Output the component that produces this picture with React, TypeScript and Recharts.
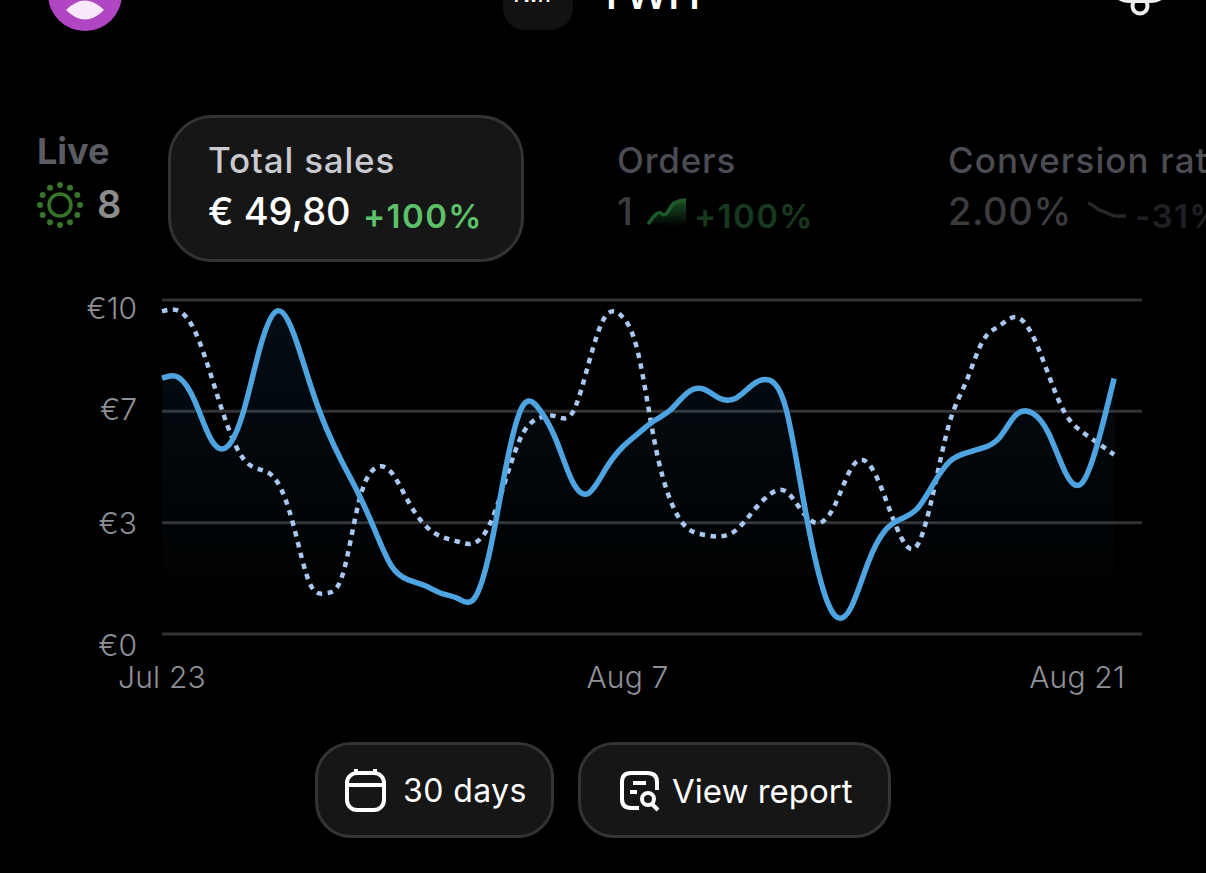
import React from "react";
import { ComposedChart, Area, Line, XAxis, YAxis, CartesianGrid } from "recharts";

const halfDays = Array.from({ length: 59 }, (_, i) => i / 2);
const currentSales = [7.66,7.68,6.97,5.82,5.62,6.72,8.62,9.67,9.02,7.52,6.17,5.12,4.17,3.07,2.02,1.62,1.45,1.22,1.07,1.05,2.55,5.12,6.85,6.72,5.82,4.57,4.22,4.92,5.57,6.0,6.39,6.72,7.22,7.33,7.05,7.07,7.47,7.6,6.77,4.22,1.82,0.55,0.82,2.12,3.07,3.44,3.75,4.5,5.17,5.42,5.57,5.87,6.55,6.62,6.02,4.87,4.5,5.72,7.65];
const previousSales = [9.66,9.68,9.07,7.72,6.22,5.22,4.92,4.57,3.27,1.52,1.22,1.77,3.97,4.97,4.82,3.97,3.27,2.92,2.77,2.72,3.32,4.72,6.02,6.47,6.52,6.62,8.12,9.5,9.52,8.42,5.77,3.97,3.17,2.97,2.92,3.12,3.67,4.17,4.27,3.67,3.32,3.87,4.97,5.12,4.15,2.92,2.65,4.27,6.37,7.57,8.77,9.22,9.49,8.97,7.77,6.62,6.07,5.72,5.37];
const yTicks = [0, 3.33, 6.67, 10];
const yLabels = ["€0", "€3", "€7", "€10"];
const xTicks = [0, 15, 29];
const xLabels = ["Jul 23", "Aug 7", "Aug 21"];

const rows = halfDays.map((day, i) => ({ day, current: currentSales[i], previous: previousSales[i] }));
const FONT = "Inter, sans-serif";
const yNudge: Record<number, number> = { 0: 11, 3.33: 0, 6.67: -2, 10: 8 };
const xNudge: Record<number, number> = { 0: 0, 15: -27, 29: -37 };

const YTick = (p: any) => (
  <text x={137} y={p.y + yNudge[p.payload.value]} textAnchor="end" dominantBaseline="central" fill="#8f9096" fontFamily={FONT} fontSize={30} fontWeight={300}>
    {yLabels[yTicks.indexOf(p.payload.value)]}
  </text>
);
const XTick = (p: any) => (
  <text x={p.x + xNudge[p.payload.value]} y={677} textAnchor="middle" dominantBaseline="central" fill="#8f9096" fontFamily={FONT} fontSize={30} fontWeight={300} letterSpacing={0.2}>
    {xLabels[xTicks.indexOf(p.payload.value)]}
  </text>
);

const abs = (s: React.CSSProperties): React.CSSProperties => ({ position: "absolute", ...s });
const T = ({ x, y, size, color, weight = 500, spacing = 0, children }: any) => (
  <div style={abs({ left: x, top: y, transform: "translateY(-50%)", fontSize: size, color, fontWeight: weight, letterSpacing: spacing, whiteSpace: "nowrap", lineHeight: 1 })}>{children}</div>
);
const Pill = ({ x, y, w, h, r }: any) => (
  <div style={abs({ left: x, top: y, width: w, height: h, borderRadius: r, background: "#161616", border: "3px solid #333", boxSizing: "border-box" })} />
);

export default function App() {
  return (
    <div style={abs({ left: 0, top: 0, width: 1206, height: 873, background: "#000", overflow: "hidden", fontFamily: FONT })}>
      <svg width={1206} height={60} style={abs({ left: 0, top: 0 })}>
        <circle cx={85} cy={-6} r={37} fill="#b146c2" />
        <path d="M66 10 Q85 -9 104 10 Q85 29 66 10 Z" fill="#f8e9fa" />
        <rect x={503} y={-40} width={70} height={70} rx={22} fill="#121212" />
        <path d="M1115 -3 H1165 Q1160 3 1150 3 H1130 Q1120 3 1115 -3 Z" fill="#eee" />
        <circle cx={1140} cy={6} r={7.5} fill="none" stroke="#eee" strokeWidth={4} />
      </svg>
      <T x={511} y={-4} size={16} color="#fff" weight={700}>TWH</T>
      <T x={597} y={-7} size={44} color="#fff" weight={500} spacing={-1}>TWH</T>

      <T x={37} y={151} size={36} color="#5b5c62" weight={700}>Live</T>
      <svg width={50} height={50} style={abs({ left: 35, top: 180 })}>
        <circle cx={25} cy={25} r={11} fill="none" stroke="#37752a" strokeWidth={3.5} />
        {[0,30,60,90,120,150,180,210,240,270,300,330].map((a) => (
          <circle key={a} cx={25 + 20 * Math.cos((a * Math.PI) / 180)} cy={25 + 20 * Math.sin((a * Math.PI) / 180)} r={3} fill="#37752a" />
        ))}
      </svg>
      <T x={97} y={204} size={38} color="#8c8c8c" weight={600}>8</T>

      <Pill x={168} y={115} w={356} h={147} r={44} />
      <T x={208} y={160} size={35} color="#c9cad0" weight={500} spacing={0.8}>Total sales</T>
      <T x={208} y={211} size={38} color="#fff" weight={500} spacing={0}>€ 49,80</T>
      <T x={363} y={216} size={33} color="#5cc168" weight={600} spacing={1.4}>+100%</T>

      <T x={617} y={160} size={35} color="#4c4d53" weight={500} spacing={0.8}>Orders</T>
      <T x={617} y={211} size={38} color="#3c3c3f" weight={500}>1</T>
      <T x={694} y={216} size={33} color="#173a1f" weight={600} spacing={1.4}>+100%</T>
      <svg width={44} height={34} style={abs({ left: 646, top: 196 })}>
        <defs>
          <linearGradient id="upSpark" x1="0" y1="0" x2="0" y2="1">
            <stop offset="0%" stopColor="#1d5a2a" stopOpacity={0.9} />
            <stop offset="100%" stopColor="#1d5a2a" stopOpacity={0} />
          </linearGradient>
        </defs>
        <path d="M2 28 C8 20 12 14 16 18 C21 22 24 10 28 7 C32 5 36 4 40 4 V30 H22 Z" fill="url(#upSpark)" />
        <path d="M2 28 C8 20 12 14 16 18 C21 22 24 10 28 7 C32 5 36 4 40 4" fill="none" stroke="#1d5a2a" strokeWidth={3.5} />
      </svg>

      <T x={948} y={160} size={35} color="#4c4d53" weight={500} spacing={1.1}>Conversion rate</T>
      <T x={948} y={211} size={38} color="#3c3c3f" weight={500} spacing={0.6}>2.00%</T>
      <svg width={44} height={30} style={abs({ left: 1086, top: 198 })}>
        <path d="M2 5 C8 6 10 12 16 13 C22 14 26 20 34 18 L40 18" fill="none" stroke="#28282c" strokeWidth={3.5} />
      </svg>
      <T x={1135} y={216} size={33} color="#202024" weight={600} spacing={1.4}>-31%</T>

      <div style={abs({ left: 0, top: 0 })}>
        <ComposedChart width={1206} height={720} data={rows} margin={{ top: 300, left: 0, right: 64, bottom: 36 }}>
          <defs>
            <linearGradient id="salesFill" x1="0" y1="0" x2="0" y2="1">
              <stop offset="0%" stopColor="#1d6fa8" stopOpacity={0.2} />
              <stop offset="85%" stopColor="#1d6fa8" stopOpacity={0.02} />
              <stop offset="100%" stopColor="#1d6fa8" stopOpacity={0} />
            </linearGradient>
          </defs>
          <CartesianGrid horizontal vertical={false} stroke="#333336" strokeWidth={3} />
          <XAxis dataKey="day" type="number" domain={[0, 29.85]} ticks={xTicks} tick={<XTick />} axisLine={false} tickLine={false} height={50} interval={0} />
          <YAxis type="number" domain={[0, 10]} ticks={yTicks} tick={<YTick />} axisLine={false} tickLine={false} width={162} interval={0} />
          <Area dataKey="current" type="natural" stroke="none" fill="url(#salesFill)" isAnimationActive={false} />
          <Line dataKey="previous" type="natural" stroke="#a9c8f2" strokeWidth={4.5} strokeDasharray="5.5 5.5" dot={false} isAnimationActive={false} />
          <Line dataKey="current" type="natural" stroke="#4ea4e0" strokeWidth={5.5} dot={false} isAnimationActive={false} />
        </ComposedChart>
      </div>

      <Pill x={315} y={742} w={239} h={96} r={36} />
      <svg width={44} height={46} style={abs({ left: 344, top: 768 })}>
        <rect x={3} y={5} width={37} height={37} rx={10} fill="none" stroke="#fff" strokeWidth={4} />
        <line x1={3} y1={17} x2={40} y2={17} stroke="#fff" strokeWidth={4} />
        <line x1={12} y1={1} x2={12} y2={6} stroke="#fff" strokeWidth={4} />
        <line x1={31} y1={1} x2={31} y2={6} stroke="#fff" strokeWidth={4} />
      </svg>
      <T x={403} y={791} size={32} color="#fff" weight={400} spacing={0.4}>30 days</T>

      <Pill x={578} y={742} w={313} h={96} r={36} />
      <svg width={46} height={46} style={abs({ left: 619, top: 770 })}>
        <path d="M20 38 H12 Q3 38 3 29 V12 Q3 3 12 3 H28 Q38 3 38 12 V20" fill="none" stroke="#fff" strokeWidth={4} />
        <line x1={14} y1={13} x2={27} y2={13} stroke="#fff" strokeWidth={4} />
        <line x1={11} y1={22} x2={18} y2={22} stroke="#fff" strokeWidth={4} />
        <circle cx={29} cy={29} r={6} fill="none" stroke="#fff" strokeWidth={4} />
        <line x1={33} y1={34} x2={39} y2={40} stroke="#fff" strokeWidth={4} />
      </svg>
      <T x={672} y={791} size={33} color="#fff" weight={400}>View report</T>
    </div>
  );
}
